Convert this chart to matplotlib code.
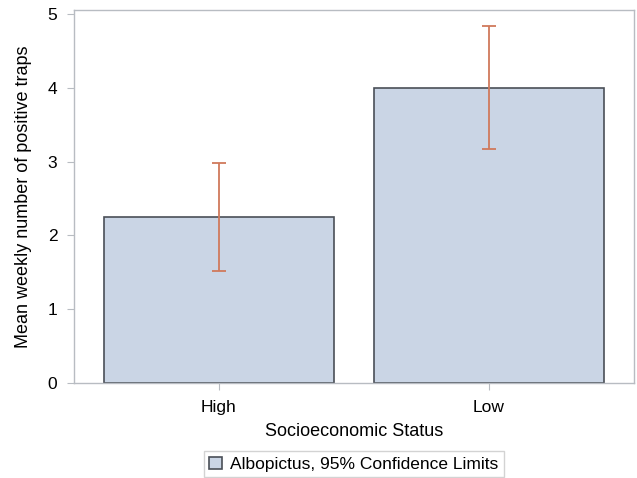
import numpy as np
import matplotlib.pyplot as plt

plt.rcParams['font.family'] = ['Liberation Sans', 'DejaVu Sans']

# data
categories = ["High", "Low"]
means = [2.25, 4.00]
lower = [1.52, 3.17]
upper = [2.98, 4.84]

fig = plt.figure(figsize=(6.37, 4.78), dpi=100)
ax = fig.add_axes([74 / 637, 1 - 383 / 478, 560 / 637, 373 / 478])

x = np.arange(len(categories))
m = np.array(means)
yerr = [m - np.array(lower), np.array(upper) - m]

ax.bar(x, m, width=0.852, color='#cad5e5', edgecolor='#4a4f57', linewidth=1.2,
       label='Albopictus, 95% Confidence Limits', zorder=2)
ax.errorbar(x, m, yerr=yerr, fmt='none', ecolor='#d07a5c', elinewidth=1.3,
            capsize=5, capthick=1.3, zorder=3)

ax.set_xlim(-0.537, 1.537)
ax.set_ylim(0, 5.054)
ax.set_xticks(x)
ax.set_xticklabels(categories)
ax.set_yticks([0, 1, 2, 3, 4, 5])

for s in ax.spines.values():
    s.set_color('#b8bcc2')
    s.set_linewidth(1.0)
ax.tick_params(axis='both', direction='out', length=5, color='#b8bcc2',
               labelsize=12.5, pad=7)

ax.set_xlabel('Socioeconomic Status', fontsize=13, labelpad=6)
ax.set_ylabel('Mean weekly number of positive traps', fontsize=13, labelpad=11)

ax.legend(loc='upper center', bbox_to_anchor=(0.5, -0.16), frameon=True,
          fontsize=12.5, handlelength=0.7, handleheight=0.7, handletextpad=0.5,
          borderpad=0.3, fancybox=False, edgecolor='#c8c8c8')

fig.savefig('out.png', dpi=100)
